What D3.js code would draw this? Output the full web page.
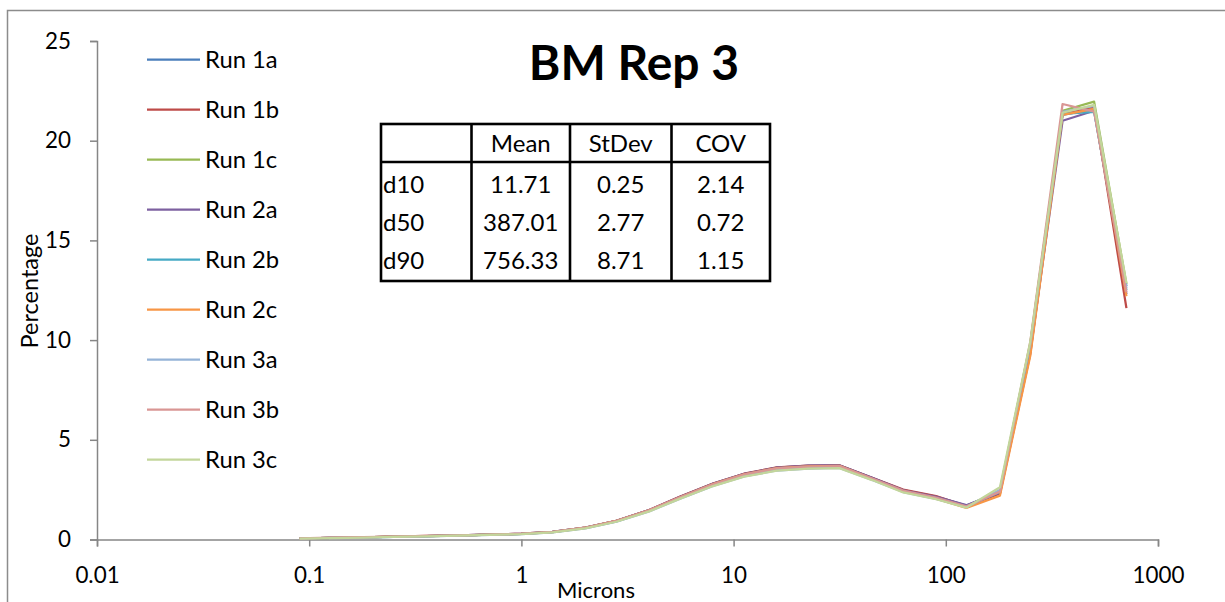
<!DOCTYPE html>
<html>
<head>
<meta charset="utf-8">
<script src="https://cdn.jsdelivr.net/npm/d3@7"></script>
<style>
  html, body { margin: 0; padding: 0; background: #fff; }
  svg { display: block; }
  text { font-family: Lato, "Open Sans", sans-serif; fill: #000; }
</style>
</head>
<body>
<svg id="chart" width="1225" height="602"></svg>
<script>
// Particle size bins (microns)
const sizes = [0.09, 0.125, 0.18, 0.25, 0.355, 0.5, 0.71, 1, 1.4, 2, 2.8, 4, 5.6, 8,
  11.2, 16, 22.4, 31.5, 45, 63, 90, 125, 180, 250, 355, 500, 710];

// Percentage in each bin, one array per run
const run1a = [0.05,0.08,0.11,0.14,0.17,0.21,0.24,0.28,0.38,0.59,0.93,1.47,2.13,2.79,3.28,3.60,3.69,3.71,3.08,2.48,2.15,1.70,2.40,9.6,21.30,21.60,12.70];
const run1b = [0.05,0.08,0.11,0.14,0.18,0.21,0.25,0.29,0.38,0.60,0.94,1.48,2.15,2.81,3.30,3.62,3.71,3.72,3.10,2.50,2.18,1.68,2.30,9.3,21.40,21.70,11.60];
const run1c = [0.05,0.08,0.11,0.14,0.17,0.20,0.24,0.28,0.37,0.58,0.92,1.45,2.10,2.76,3.24,3.55,3.64,3.66,3.05,2.44,2.10,1.65,2.45,9.8,21.50,21.96,12.80];
const run2a = [0.05,0.08,0.11,0.14,0.17,0.21,0.25,0.29,0.38,0.60,0.94,1.48,2.14,2.80,3.29,3.61,3.70,3.72,3.09,2.47,2.14,1.72,2.35,9.4,21.00,21.50,12.30];
const run2b = [0.05,0.08,0.11,0.13,0.17,0.20,0.24,0.28,0.37,0.58,0.91,1.44,2.09,2.74,3.22,3.53,3.62,3.64,3.03,2.42,2.08,1.64,2.40,9.6,21.35,21.45,12.50];
const run2c = [0.05,0.08,0.11,0.14,0.17,0.20,0.24,0.28,0.37,0.59,0.93,1.46,2.12,2.78,3.27,3.58,3.67,3.69,3.05,2.40,2.05,1.58,2.20,9.2,21.30,21.60,12.20];
const run3a = [0.05,0.08,0.10,0.13,0.16,0.20,0.23,0.27,0.36,0.56,0.89,1.41,2.05,2.69,3.16,3.46,3.56,3.59,2.99,2.38,2.04,1.62,2.50,9.8,21.45,21.75,12.60];
const run3b = [0.06,0.09,0.12,0.15,0.18,0.21,0.25,0.29,0.38,0.59,0.93,1.46,2.12,2.77,3.26,3.57,3.66,3.68,3.06,2.45,2.10,1.66,2.40,9.9,21.84,21.46,12.40];
const run3c = [0.05,0.07,0.10,0.13,0.16,0.19,0.23,0.27,0.36,0.56,0.89,1.41,2.05,2.68,3.15,3.45,3.55,3.58,2.98,2.36,2.02,1.60,2.62,9.9,21.40,21.80,12.86];

const seriesNames = ["Run 1a", "Run 1b", "Run 1c", "Run 2a", "Run 2b", "Run 2c", "Run 3a", "Run 3b", "Run 3c"];
const seriesValues = [run1a, run1b, run1c, run2a, run2b, run2c, run3a, run3b, run3c];
const seriesColors = ["#4a7ebb", "#be4b48", "#98b954", "#7d60a0", "#46aac5", "#f79646", "#95b3d7", "#d99694", "#c3d69b"];

// Axis ticks
const xTicks = [0.01, 0.1, 1, 10, 100, 1000];
const xTickLabels = ["0.01", "0.1", "1", "10", "100", "1000"];
const yTicks = [0, 5, 10, 15, 20, 25];

// Summary statistics table
const statRows = ["d10", "d50", "d90"];
const statCols = ["Mean", "StDev", "COV"];
const statMean = ["11.71", "387.01", "756.33"];
const statStDev = ["0.25", "2.77", "8.71"];
const statCov = ["2.14", "0.72", "1.15"];

const title = "BM Rep 3";
const xTitle = "Microns";
const yTitle = "Percentage";

const svg = d3.select("#chart");
const axisColor = "#868686";
const fs = 22.4;

// chart frame
svg.append("rect")
  .attr("x", 7.5).attr("y", 10.5)
  .attr("width", 1240).attr("height", 620)
  .attr("fill", "none").attr("stroke", "#8c8c8c").attr("stroke-width", 1.5);

const plot = { left: 97, right: 1158, top: 41, bottom: 539.5 };

const x = d3.scaleLog().domain([0.01, 1000]).range([plot.left, plot.right]);
const y = d3.scaleLinear().domain([0, 25]).range([plot.bottom, plot.top]);

// y axis
const yAxis = svg.append("g")
  .attr("transform", `translate(${plot.left},0)`)
  .call(d3.axisLeft(y).tickValues(yTicks).tickSize(7).tickPadding(19).tickFormat(d3.format("d")));
yAxis.select(".domain").attr("stroke", axisColor).attr("stroke-width", 1.5);
yAxis.selectAll(".tick line").attr("stroke", axisColor).attr("stroke-width", 1.5);
yAxis.selectAll(".tick text")
  .attr("font-size", fs).attr("font-family", "Lato, 'Open Sans', sans-serif").attr("fill", "#000");

// x axis
const xAxis = svg.append("g")
  .attr("transform", `translate(0,${plot.bottom})`)
  .call(d3.axisBottom(x).tickValues(xTicks).tickSize(7).tickPadding(21)
    .tickFormat((d, i) => xTickLabels[i]));
xAxis.select(".domain").attr("stroke", axisColor).attr("stroke-width", 1.5);
xAxis.selectAll(".tick line").attr("stroke", axisColor).attr("stroke-width", 1.5);
xAxis.selectAll(".tick text")
  .attr("font-size", fs).attr("font-family", "Lato, 'Open Sans', sans-serif").attr("fill", "#000");

// axis titles
svg.append("text")
  .attr("x", 596).attr("y", 598)
  .attr("text-anchor", "middle")
  .attr("font-size", 22)
  .text(xTitle);

svg.append("text")
  .attr("transform", "translate(38,291) rotate(-90)")
  .attr("text-anchor", "middle")
  .attr("font-size", 23.5)
  .text(yTitle);

// series lines
const line = d3.line()
  .x((d, i) => x(sizes[i]))
  .y(d => y(d));

svg.append("g").selectAll("path")
  .data(seriesValues)
  .join("path")
  .attr("d", d => line(d))
  .attr("fill", "none")
  .attr("stroke", (d, i) => seriesColors[i])
  .attr("stroke-width", 2.25)
  .attr("stroke-linejoin", "round");

// legend
const legend = svg.append("g");
seriesNames.forEach((name, i) => {
  const ly = 59.5 + i * 50;
  legend.append("line")
    .attr("x1", 147).attr("x2", 200).attr("y1", ly).attr("y2", ly)
    .attr("stroke", seriesColors[i]).attr("stroke-width", 2.25);
  legend.append("text")
    .attr("x", 205).attr("y", ly).attr("dy", "0.36em")
    .attr("font-size", 23.8)
    .text(name);
});

// title
svg.append("text")
  .attr("x", 634).attr("y", 80)
  .attr("text-anchor", "middle")
  .attr("font-size", 48).attr("font-weight", "bold")
  .text(title);

// statistics table
const tbl = { left: 381, right: 770, top: 124, bottom: 281 };
const colEdges = [381, 471.5, 570, 671.5, 770];
const rowCenters = [143.5, 184, 222.5, 260.5];
const headerBottom = 162;
const tg = svg.append("g");
tg.append("rect")
  .attr("x", tbl.left).attr("y", tbl.top)
  .attr("width", tbl.right - tbl.left).attr("height", tbl.bottom - tbl.top)
  .attr("fill", "#fff").attr("stroke", "#000").attr("stroke-width", 2.6);
tg.append("line")
  .attr("x1", tbl.left).attr("x2", tbl.right)
  .attr("y1", headerBottom).attr("y2", headerBottom)
  .attr("stroke", "#000").attr("stroke-width", 2.6);
colEdges.slice(1, -1).forEach(cx => {
  tg.append("line")
    .attr("x1", cx).attr("x2", cx).attr("y1", tbl.top).attr("y2", tbl.bottom)
    .attr("stroke", "#000").attr("stroke-width", 2.6);
});
const tfs = 24;
statCols.forEach((c, j) => {
  tg.append("text")
    .attr("x", (colEdges[j + 1] + colEdges[j + 2]) / 2).attr("y", rowCenters[0]).attr("dy", "0.36em")
    .attr("text-anchor", "middle").attr("font-size", tfs).text(c);
});
const colValues = [statMean, statStDev, statCov];
statRows.forEach((r, i) => {
  tg.append("text")
    .attr("x", 383).attr("y", rowCenters[i + 1]).attr("dy", "0.36em")
    .attr("font-size", tfs).text(r);
  colValues.forEach((vals, j) => {
    tg.append("text")
      .attr("x", (colEdges[j + 1] + colEdges[j + 2]) / 2).attr("y", rowCenters[i + 1]).attr("dy", "0.36em")
      .attr("text-anchor", "middle").attr("font-size", tfs).text(vals[i]);
  });
});
</script>
</body>
</html>
